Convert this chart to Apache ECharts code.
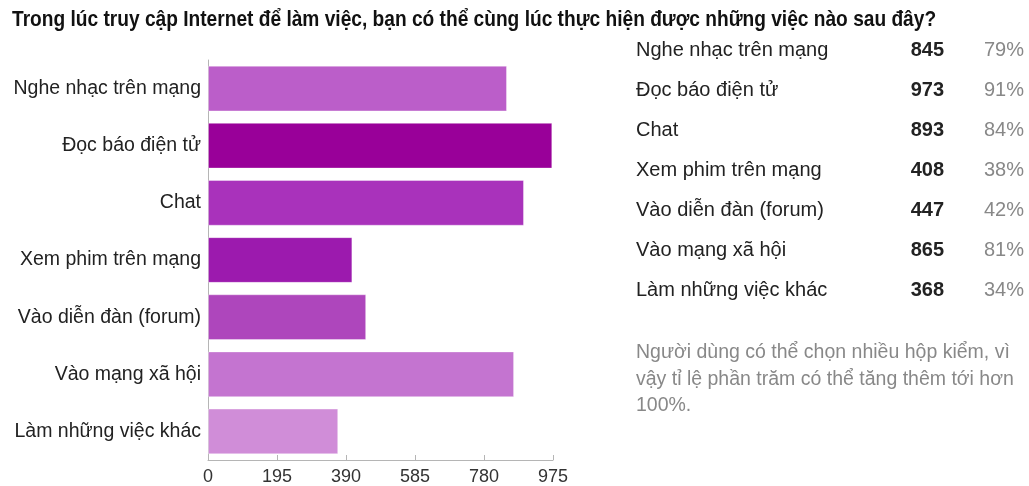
<!DOCTYPE html>
<html>
<head>
<meta charset="utf-8">
<script src="https://cdn.jsdelivr.net/npm/echarts@6/dist/echarts.min.js"></script>
<style>
  html, body { margin: 0; padding: 0; background: #fff; }
  #chart { width: 1029px; height: 486px; }
</style>
</head>
<body>
<div id="chart"></div>
<script>
  var categories = ['Nghe nhạc trên mạng', 'Đọc báo điện tử', 'Chat', 'Xem phim trên mạng', 'Vào diễn đàn (forum)', 'Vào mạng xã hội', 'Làm những việc khác'];
  var counts = [845, 973, 893, 408, 447, 865, 368];
  var percents = ['79%', '91%', '84%', '38%', '42%', '81%', '34%'];
  var barColors = ['#bb5ec9', '#990099', '#a932bb', '#9c1aae', '#ae46bc', '#c474d0', '#d08dd8'];
  var xTicks = [0, 195, 390, 585, 780, 975];
  var titleText = 'Trong lúc truy cập Internet để làm việc, bạn có thể cùng lúc thực hiện được những việc nào sau đây?';
  var noteLines = ['Người dùng có thể chọn nhiều hộp kiểm, vì', 'vậy tỉ lệ phần trăm có thể tăng thêm tới hơn', '100%.'];

  var font = 'Liberation Sans, Arial, sans-serif';
  var myChart = echarts.init(document.getElementById('chart'));

  // tieu de: chu dam, hep lai cho giong font Narrow
  var gfx = [{
    type: 'text', x: 12, y: 20, scaleX: 0.87,
    style: { text: titleText, x: 0, y: 0, fill: '#111', font: 'bold 22px ' + font, textVerticalAlign: 'middle' }
  }];

  // bang ben phai
  categories.forEach(function (name, i) {
    var y = 50 + i * 40;
    gfx.push({ type: 'text', x: 636, y: y, style: { text: name, fill: '#222', font: '20px ' + font, textVerticalAlign: 'middle' } });
    gfx.push({ type: 'text', x: 944, y: y, style: { text: String(counts[i]), fill: '#222', font: 'bold 20px ' + font, textAlign: 'right', textVerticalAlign: 'middle' } });
    gfx.push({ type: 'text', x: 1024, y: y, style: { text: percents[i], fill: '#888', font: '20px ' + font, textAlign: 'right', textVerticalAlign: 'middle' } });
  });
  noteLines.forEach(function (line, i) {
    gfx.push({ type: 'text', x: 636, y: 353 + i * 26.5, style: { text: line, fill: '#888', font: '19.5px ' + font, textVerticalAlign: 'middle' } });
  });

  myChart.setOption({
    animation: false,
    grid: { left: 208, right: 1029 - 553, top: 60, bottom: 486 - 460 },
    xAxis: {
      type: 'value',
      min: 0,
      max: xTicks[xTicks.length - 1],
      interval: xTicks[1] - xTicks[0],
      axisLine: { show: true, lineStyle: { color: '#b5b5b5' } },
      axisTick: { show: true, inside: true, length: 5, lineStyle: { color: '#b5b5b5' } },
      splitLine: { show: false },
      axisLabel: { color: '#333', fontSize: 18, fontFamily: font, margin: 8 }
    },
    yAxis: {
      type: 'category',
      inverse: true,
      data: categories,
      axisLine: { lineStyle: { color: '#b5b5b5' } },
      axisTick: { alignWithLabel: true, length: 4, lineStyle: { color: '#b5b5b5' } },
      axisLabel: { color: '#222', fontSize: 19.5, fontFamily: font, margin: 7 }
    },
    series: [{
      type: 'bar',
      barCategoryGap: '20%',
      data: counts.map(function (v, i) {
        return { value: v, itemStyle: { color: barColors[i], borderColor: 'rgba(255,255,255,0.35)', borderWidth: 1 } };
      })
    }],
    graphic: gfx
  });
</script>
</body>
</html>
